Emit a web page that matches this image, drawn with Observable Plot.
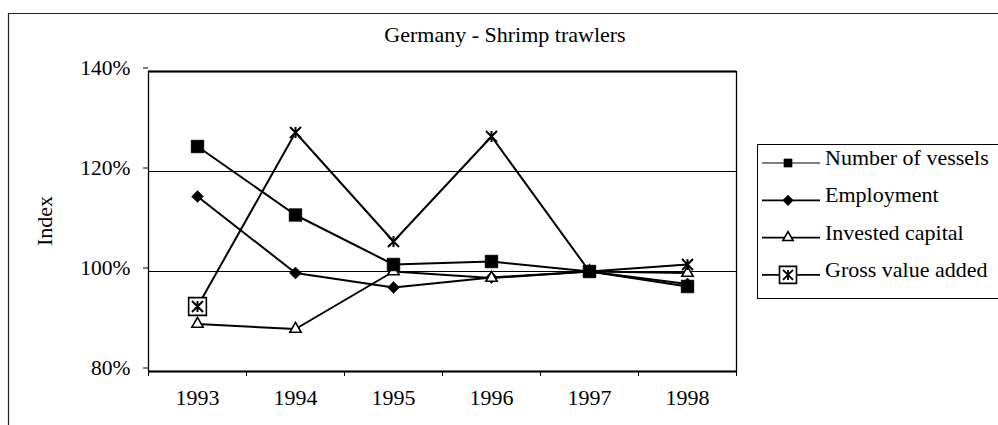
<!DOCTYPE html>
<html><head><meta charset="utf-8">
<script src="https://cdn.jsdelivr.net/npm/d3@7"></script>
<script src="https://cdn.jsdelivr.net/npm/@observablehq/plot@0.6"></script>
<style>body{margin:0;background:#fff}</style>
</head><body><div id="chart"></div>
<script>
const years = [1993, 1994, 1995, 1996, 1997, 1998];
const vessels = [125, 111.3, 101.4, 102, 100, 97];
const employment = [115, 99.7, 96.8, 98.8, 100, 97.5];
const capital = [89.5, 88.5, 100, 98.7, 100, 99.7];
const gva = [93, 127.8, 106, 127, 100, 101.4];
const seriesNames = ["Number of vessels", "Employment", "Invested capital", "Gross value added"];
const yTicks = [80, 100, 120, 140];
const gridValues = [100, 120];
const boundaries = [1992.5, 1993.5, 1994.5, 1995.5, 1996.5, 1997.5, 1998.5];
const titleText = "Germany - Shrimp trawlers";
const yLabel = "Index";

const FONT = "Liberation Serif, Times New Roman, serif";

const starSymbol = {
  draw(ctx, size) {
    const r = Math.sqrt(size / Math.PI);
    ctx.moveTo(-r, -r); ctx.lineTo(r, r);
    ctx.moveTo(r, -r); ctx.lineTo(-r, r);
    ctx.moveTo(0, -r); ctx.lineTo(0, r);
  }
};

const seriesValues = [vessels, employment, capital, gva];
const rows = [];
seriesNames.forEach((name, k) => years.forEach((yr, i) => rows.push({series: name, year: yr, value: seriesValues[k][i]})));
const bySeries = name => rows.filter(d => d.series === name);

const svg = Plot.plot({
  width: 998, height: 425,
  marginLeft: 148, marginRight: 262, marginTop: 71, marginBottom: 54,
  x: {domain: [1992.5, 1998.5]},
  y: {domain: [80, 140]},
  style: {fontFamily: FONT, fontSize: "22px", background: "white", color: "black", overflow: "visible"},
  marks: [
    Plot.gridY(gridValues, {stroke: "black", strokeOpacity: 1, strokeWidth: 1}),
    Plot.frame({stroke: "black", strokeWidth: 1.3}),
    Plot.ruleY([80, 140], {stroke: "black", strokeWidth: 2.2}),
    Plot.axisY({ticks: yTicks, tickSize: 5, tickPadding: 13, tickFormat: d => d + "%", dy: -3.5, label: null, stroke: "black", fontSize: 21.5}),
    Plot.axisX({ticks: boundaries, tickSize: 5, tickFormat: () => "", label: null, stroke: "black"}),
    Plot.axisX({ticks: years, tickSize: 0, tickPadding: 18, tickFormat: d => String(d), label: null}),
    Plot.line(rows, {x: "year", y: "value", z: "series", stroke: "black", strokeWidth: 2}),
    Plot.dot(bySeries("Employment"), {x: "year", y: "value", symbol: "diamond2", r: 5.4, fill: "black", stroke: "black", strokeWidth: 0.5}),
    Plot.dot(bySeries("Invested capital"), {x: "year", y: "value", symbol: "triangle", r: 4.2, fill: "white", stroke: "black", strokeWidth: 1.6}),
    Plot.dot(bySeries("Number of vessels"), {x: "year", y: "value", symbol: "square", r: 7.2, fill: "black", stroke: "black", strokeWidth: 0.5}),
    Plot.dot(bySeries("Gross value added").filter(d => d.year === years[0]), {x: "year", y: "value", symbol: "square", r: 10, fill: "white", stroke: "black", strokeWidth: 1.6}),
    Plot.dot(bySeries("Gross value added"), {x: "year", y: "value", symbol: starSymbol, r: 5.5, fill: "none", stroke: "black", strokeWidth: 2})
  ]
});

const s = d3.select(svg);
// outer chart border
s.append("path").attr("d", "M8.5,425 L8.5,13.5 L998,13.5").attr("fill", "none").attr("stroke", "#222").attr("stroke-width", 1.2);
// title
s.append("text").attr("x", 505).attr("y", 42).attr("text-anchor", "middle")
  .attr("font-family", FONT).attr("font-size", 22).attr("fill", "black").text(titleText);
// y label
s.append("text").attr("transform", "translate(52,221) rotate(-90)").attr("text-anchor", "middle")
  .attr("font-family", FONT).attr("font-size", 22).attr("fill", "black").text(yLabel);

// legend
const lg = s.append("g").attr("text-anchor", "start");
lg.append("rect").attr("x", 757.5).attr("y", 144.5).attr("width", 260).attr("height", 154)
  .attr("fill", "white").attr("stroke", "black").attr("stroke-width", 1);
const legSyms = [
  {type: d3.symbolSquare, r: 4.6, fill: "black", stroke: "black", sw: 0.5},
  {type: d3.symbolDiamond2, r: 4.8, fill: "black", stroke: "black", sw: 0.5},
  {type: d3.symbolTriangle, r: 3.8, fill: "white", stroke: "black", sw: 1.6},
  {type: "gva"}
];
seriesNames.forEach((name, i) => {
  const y = 163 + i * 37.3;
  lg.append("line").attr("x1", 762).attr("x2", 820).attr("y1", y).attr("y2", y).attr("stroke", "black").attr("stroke-width", i === 0 ? 1 : 1.8);
  const sym = legSyms[i];
  if (sym.type === "gva") {
    lg.append("path").attr("transform", `translate(788,${y})`).attr("d", d3.symbol(d3.symbolSquare, Math.PI * 9.6 * 9.6)())
      .attr("fill", "white").attr("stroke", "black").attr("stroke-width", 1.6);
    lg.append("path").attr("transform", `translate(788,${y})`).attr("d", d3.symbol(starSymbol, Math.PI * 5 * 5)())
      .attr("fill", "none").attr("stroke", "black").attr("stroke-width", 1.8);
  } else {
    lg.append("path").attr("transform", `translate(788,${y})`).attr("d", d3.symbol(sym.type, Math.PI * sym.r * sym.r)())
      .attr("fill", sym.fill).attr("stroke", sym.stroke).attr("stroke-width", sym.sw);
  }
  lg.append("text").attr("x", 825).attr("y", y + 2).attr("text-anchor", "start").attr("font-family", FONT).attr("font-size", 22)
    .attr("fill", "black").text(name);
});

document.getElementById("chart").appendChild(svg);
</script>
</body></html>
